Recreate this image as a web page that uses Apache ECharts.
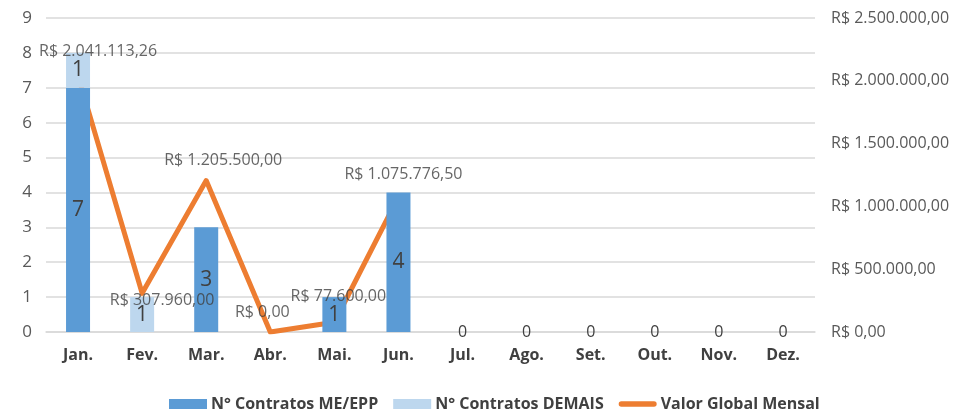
<!DOCTYPE html>
<html>
<head>
<meta charset="utf-8">
<script src="https://cdn.jsdelivr.net/npm/echarts@6/dist/echarts.min.js"></script>
<style>
  html, body { margin: 0; padding: 0; background: #fff; }
  #chart { width: 970px; height: 411px; }
</style>
</head>
<body>
<div id="chart"></div>
<script>
var months = ['Jan.', 'Fev.', 'Mar.', 'Abr.', 'Mai.', 'Jun.', 'Jul.', 'Ago.', 'Set.', 'Out.', 'Nov.', 'Dez.'];
var contratosMeEpp = [7, null, 3, null, 1, 4, 0, 0, 0, 0, 0, 0];
var contratosDemais = [1, 1, null, null, null, null, null, null, null, null, null, null];
var valorGlobal = [2041113.26, 307960.00, 1205500.00, 0, 77600.00, 1075776.50, null, null, null, null, null, null];
var leftTicks = [0, 9, 1];
var rightTicks = [0, 2500000, 500000];

var FONT = 'Open Sans';
var TXT = '#404040';

function brl(v) {
    var parts = Number(v).toFixed(2).split('.');
    parts[0] = parts[0].replace(/\B(?=(\d{3})+(?!\d))/g, '.');
    return 'R$ ' + parts[0] + ',' + parts[1];
}

function barItems(arr) {
    return arr.map(function (v) {
        if (v === 0) {
            return { value: 0, label: { fontSize: 16 } };
        }
        return v;
    });
}

// deslocamento manual dos rotulos (como no Excel)
var labelOffsets = [[20, -4], [20, 27], [17, 0], [-8, 0], [4, -6], [5, -2]];
var labelItems = valorGlobal.map(function (v, i) {
    if (v == null) return null;
    return { value: v, label: { offset: labelOffsets[i] || [0, 0] } };
});

var lineIcon = 'path://M0,0L0.01,0L0,0.01Z M0,10L0.01,10L0,9.99Z M3,2 L39,2 A3,3 0 0 1 39,8 L3,8 A3,3 0 0 1 3,2 Z';

var chart = echarts.init(document.getElementById('chart'));
chart.setOption({
    animation: false,
    textStyle: { fontFamily: FONT },
    grid: { left: 46, right: 155, top: 18, bottom: 79 },
    legend: {
        data: [
            { name: 'N° Contratos ME/EPP', icon: 'rect' },
            { name: 'N° Contratos DEMAIS', icon: 'rect' },
            { name: 'Valor Global Mensal', icon: lineIcon }
        ],
        left: 164,
        top: 391,
        itemWidth: 38,
        itemHeight: 10,
        itemGap: 15,
        textStyle: { fontFamily: FONT, fontWeight: 'bold', fontSize: 16, color: TXT, padding: [0, 0, 0, -1] }
    },
    xAxis: {
        type: 'category',
        data: months,
        axisLine: { lineStyle: { color: '#d9d9d9', width: 1.5 } },
        axisTick: { show: false },
        axisLabel: { color: TXT, fontWeight: 'bold', fontSize: 16, margin: 15, fontFamily: FONT }
    },
    yAxis: [{
        type: 'value',
        min: leftTicks[0],
        max: leftTicks[1],
        interval: leftTicks[2],
        axisLine: { show: false },
        axisTick: { show: false },
        splitLine: { lineStyle: { color: '#d9d9d9', width: 1.5 } },
        axisLabel: { color: '#595959', fontSize: 17, margin: 14, fontFamily: FONT }
    }, {
        type: 'value',
        min: rightTicks[0],
        max: rightTicks[1],
        interval: rightTicks[2],
        axisLine: { show: false },
        axisTick: { show: false },
        splitLine: { show: false },
        axisLabel: { color: '#595959', fontSize: 16, margin: 16, fontFamily: FONT, formatter: brl }
    }],
    series: [{
        name: 'N° Contratos ME/EPP',
        type: 'bar',
        stack: 'n',
        z: 3,
        barWidth: 24,
        itemStyle: { color: '#5B9BD5' },
        label: { show: true, position: 'inside', color: TXT, fontSize: 21, fontFamily: FONT },
        data: barItems(contratosMeEpp)
    }, {
        name: 'N° Contratos DEMAIS',
        type: 'bar',
        stack: 'n',
        z: 3,
        barWidth: 24,
        itemStyle: { color: '#BDD7EE' },
        label: { show: true, position: 'inside', color: TXT, fontSize: 21, fontFamily: FONT },
        data: contratosDemais
    }, {
        name: 'Valor Global Mensal',
        type: 'line',
        yAxisIndex: 1,
        z: 1,
        symbol: 'none',
        color: '#ED7D31',
        lineStyle: { color: '#ED7D31', width: 5, cap: 'round', join: 'round' },
        data: valorGlobal
    }, {
        name: 'rotulos',
        type: 'scatter',
        yAxisIndex: 1,
        z: 5,
        symbolSize: 0,
        silent: true,
        label: {
            show: true, position: 'top', distance: 12,
            color: TXT, fontSize: 16, fontFamily: FONT,
            formatter: function (p) { return brl(p.value); }
        },
        data: labelItems
    }]
});
</script>
</body>
</html>
